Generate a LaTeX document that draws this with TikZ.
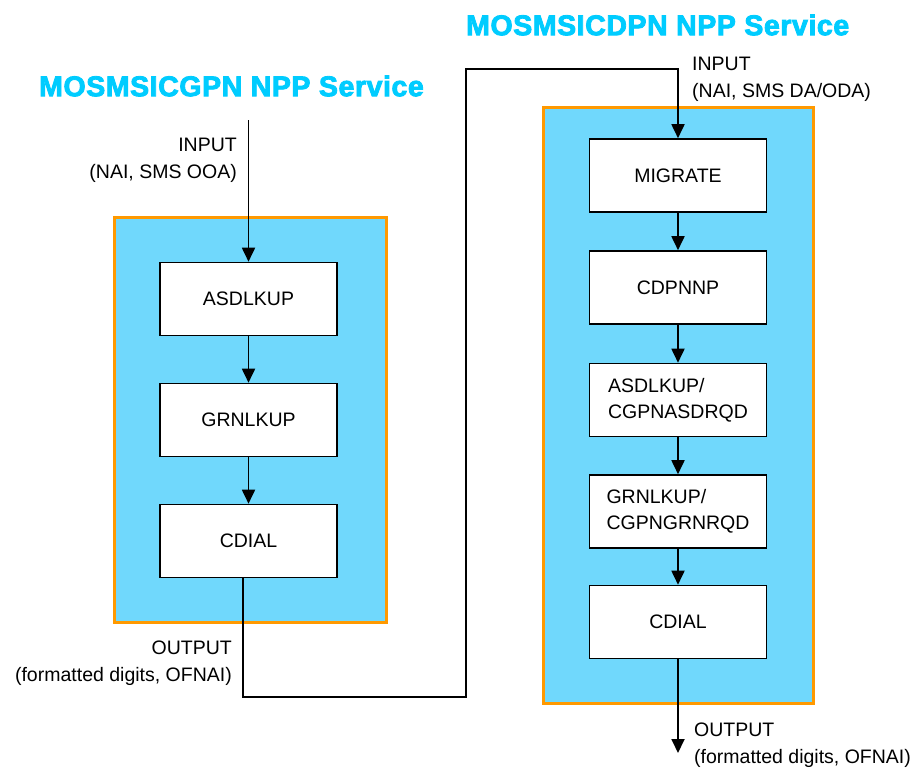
\documentclass[tikz,border=0pt]{standalone}
\usepackage{fontspec}
\setmainfont{Liberation Sans}
\newfontfamily\titlefont[FakeBold=3,LetterSpace=2]{Liberation Sans Bold}
\usetikzlibrary{arrows.meta}
\definecolor{titlecyan}{RGB}{0,204,255}
\definecolor{panelfill}{RGB}{112,216,252}
\definecolor{panelborder}{RGB}{255,153,0}
\tikzset{
  panel/.style={draw=panelborder, line width=3bp, fill=panelfill},
  stepbox/.style={draw=black, line width=1.6bp, fill=white, minimum width=177bp, minimum height=73bp, inner sep=0pt, font=\fontsize{19.5bp}{26bp}\selectfont},
  lbl/.style={inner sep=0pt, font=\fontsize{19.5bp}{27bp}\selectfont},
  ttl/.style={inner sep=0pt, anchor=west, text=titlecyan, font=\titlefont\fontsize{28.5bp}{32bp}\selectfont},
  conn/.style={draw=black, line width=1.8bp},
  arr/.style={conn, -{Triangle[length=14bp,width=13bp]}}
}
\begin{document}
\begin{tikzpicture}[x=1bp,y=-1bp]
\useasboundingbox (0,0) rectangle (916,768);
% titles
\node[ttl] (t1) at (39,86) {MOSMSICGPN NPP Service};
\node[ttl] (t2) at (466,25) {MOSMSICDPN NPP Service};
% panels
\node[panel, minimum width=271bp, minimum height=404bp, inner sep=0pt] (p1) at (250.5,420) {};
\node[panel, minimum width=270bp, minimum height=595bp, inner sep=0pt] (p2) at (678,405.5) {};
% left boxes
\node[stepbox] (asdL) at (248.5,299) {ASDLKUP};
\node[stepbox] (grnL) at (248.5,420) {GRNLKUP};
\node[stepbox] (cdialL) at (248.5,541) {CDIAL};
% right boxes
\node[stepbox] (mig) at (678,175.5) {MIGRATE};
\node[stepbox] (cdp) at (678,287.5) {CDPNNP};
\node[stepbox, align=left] (asdR) at (678,400) {ASDLKUP/\\CGPNASDRQD};
\node[stepbox, align=left] (grnR) at (678,511.5) {GRNLKUP/\\CGPNGRNRQD};
\node[stepbox] (cdialR) at (678,622) {CDIAL};
% labels
\node[lbl, anchor=east, align=right] (inL) at (237,160) {INPUT\\(NAI, SMS OOA)};
\node[lbl, anchor=east, align=right] (outL) at (232,663) {OUTPUT\\(formatted digits, OFNAI)};
\node[lbl, anchor=west, align=left] (inR) at (692,79) {INPUT\\(NAI, SMS DA/ODA)};
\node[lbl, anchor=west, align=left] (outR) at (694,745) {OUTPUT\\(formatted digits, OFNAI)};
% coordinates
\coordinate (srcL) at (248.5,120);
\coordinate (endR) at (678,753);
% connectors
\draw[arr] (srcL) -- (asdL.north);
\draw[arr] (asdL) -- (grnL);
\draw[arr] (grnL) -- (cdialL);
\draw[arr] ([xshift=-5.5bp]cdialL.south) -- ++(0,119) -| (466,69) -| (mig.north);
\draw[arr] (mig) -- (cdp);
\draw[arr] (cdp) -- (asdR);
\draw[arr] (asdR) -- (grnR);
\draw[arr] (grnR) -- (cdialR);
\draw[arr] (cdialR.south) -- (endR);
\end{tikzpicture}
\end{document}
